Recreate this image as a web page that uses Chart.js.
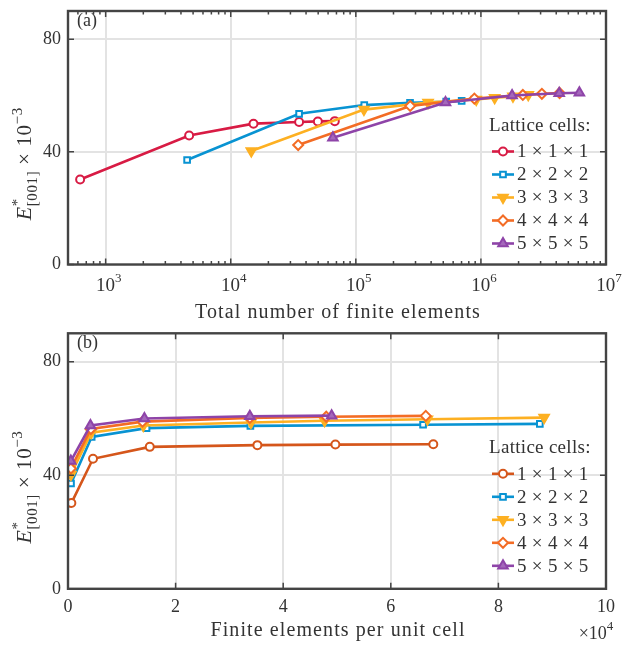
<!DOCTYPE html>
<html lang="en">
<head>
<meta charset="UTF-8">
<title>Lattice convergence</title>
<script src="https://cdn.jsdelivr.net/npm/chart.js"></script>
<style>
    body { margin: 0; background: #fff; }
    .panel { position: relative; width: 634px; }
    #topPanel { height: 320px; }
    #bottomPanel { height: 325px; }
</style>
</head>
<body>
<div class="panel" id="topPanel"><canvas id="chartA"></canvas></div>
<div class="panel" id="bottomPanel"><canvas id="chartB"></canvas></div>
<script>
// legend labels
const cellLabels = ['1 × 1 × 1', '2 × 2 × 2', '3 × 3 × 3', '4 × 4 × 4', '5 × 5 × 5'];

// finite elements per unit cell (panel b)
const perCell1 = [625, 4650, 15200, 35200, 49700, 67900];
const perCell2 = [560, 4400, 14600, 33900, 66000, 87700];
const perCell3 = [540, 4300, 14000, 34000, 47700, 66800, 88500];
const perCell4 = [540, 4250, 13850, 33800, 48000, 66500];
const perCell5 = [525, 4170, 14200, 33800, 49000];

// total number of finite elements (panel a)
const total1 = [625, 4650, 15200, 35200, 49700, 67900];
const total2 = [4480, 35200, 116800, 271200, 528000, 701600];
const total3 = [14600, 116100, 378000, 918000, 1288000, 1804000, 2390000];
const total4 = [34600, 272000, 886000, 2163000, 3072000, 4256000];
const total5 = [65600, 521000, 1775000, 4225000, 6125000];

// E*[001] x 10^-3
const modulus1 = [30.2, 45.8, 50.0, 50.6, 50.8, 50.9];
const modulus2 = [37.1, 53.5, 56.6, 57.4, 57.8, 58.1];
const modulus3 = [40.3, 55.0, 57.5, 58.6, 59.2, 59.7, 60.3];
const modulus4 = [42.4, 56.3, 58.9, 60.2, 60.6, 60.9];
const modulus5 = [45.0, 57.5, 60.0, 60.8, 61.0];

// ticks
const yTicks = [0, 40, 80];
const logTicks = [1e3, 1e4, 1e5, 1e6, 1e7];
const linTicks = [0, 2e4, 4e4, 6e4, 8e4, 1e5];

const SERIF = '"Liberation Serif", "Times New Roman", serif';
const TEXT = '#333';
const GRID = '#e3e3e3';
const FRAME = '#444';

const styles = [
    { color: '#d81b44', style: 'circle', radius: 4, fill: '#fff', rot: 0 },
    { color: '#0893d2', style: 'rect', radius: 4, fill: '#fff', rot: 0 },
    { color: '#fdb022', style: 'triangle', radius: 5.5, fill: '#fdb022', rot: 180 },
    { color: '#f36c25', style: 'rectRot', radius: 5, fill: '#fff', rot: 0 },
    { color: '#8e44a8', style: 'triangle', radius: 5.5, fill: '#a468bb', rot: 0 }
];

function makeSets(xs, ys, firstColor) {
    return xs.map((xArr, i) => {
        const s = styles[i];
        const c = i === 0 ? firstColor : s.color;
        return {
            label: cellLabels[i],
            data: xArr.map((x, j) => ({ x: x, y: ys[i][j] })),
            showLine: true,
            order: xs.length - 1 - i, // later series on top
            borderColor: c,
            backgroundColor: c,
            borderWidth: 2.6,
            pointStyle: s.style,
            pointRotation: s.rot,
            pointRadius: s.radius,
            pointBorderWidth: 2,
            pointBackgroundColor: s.fill,
            pointBorderColor: c,
            tension: 0
        };
    });
}

// draw text made of parts with sub/superscripts, centred on x
function drawRich(ctx, parts, x, y, spacing) {
    ctx.letterSpacing = (spacing || 0) + 'px';
    let w = 0;
    parts.forEach(p => {
        ctx.font = p.font;
        if (!p.stack) w += ctx.measureText(p.t).width;
    });
    let cx = x - w / 2;
    ctx.textAlign = 'left';
    ctx.textBaseline = 'alphabetic';
    parts.forEach(p => {
        ctx.font = p.font;
        ctx.fillText(p.t, cx, y + (p.dy || 0));
        if (!p.stack) cx += ctx.measureText(p.t).width;
    });
    ctx.letterSpacing = '0px';
}

const big = '19px ' + SERIF;
const small = '13px ' + SERIF;

const decor = {
    id: 'decor',
    afterDraw(chart, args, opts) {
        const ctx = chart.ctx;
        const a = chart.chartArea;
        const xs = chart.scales.x;
        const ys = chart.scales.y;
        ctx.save();

        // frame
        ctx.strokeStyle = FRAME;
        ctx.lineWidth = 2.4;
        ctx.strokeRect(a.left, a.top, a.right - a.left, a.bottom - a.top);

        // tick marks inside, all four sides
        ctx.lineWidth = 1.5;
        ctx.beginPath();
        yTicks.forEach(v => {
            const py = ys.getPixelForValue(v);
            ctx.moveTo(a.left, py); ctx.lineTo(a.left + 6, py);
            ctx.moveTo(a.right, py); ctx.lineTo(a.right - 6, py);
        });
        if (opts.log) {
            for (let k = 2; k <= 6; k++) {
                for (let m = 1; m <= 9; m++) {
                    const v = m * Math.pow(10, k);
                    if (v < xs.min || v > xs.max) continue;
                    const px = xs.getPixelForValue(v);
                    const len = m === 1 ? 6 : 3.5;
                    ctx.moveTo(px, a.bottom); ctx.lineTo(px, a.bottom - len);
                    ctx.moveTo(px, a.top); ctx.lineTo(px, a.top + len);
                }
            }
        } else {
            linTicks.forEach(v => {
                const px = xs.getPixelForValue(v);
                ctx.moveTo(px, a.bottom); ctx.lineTo(px, a.bottom - 6);
                ctx.moveTo(px, a.top); ctx.lineTo(px, a.top + 6);
            });
        }
        ctx.stroke();

        ctx.fillStyle = TEXT;

        // log tick labels with superscripts
        if (opts.log) {
            logTicks.forEach(v => {
                const px = xs.getPixelForValue(v);
                const k = Math.round(Math.log10(v));
                drawRich(ctx, [
                    { t: '10', font: '19px ' + SERIF },
                    { t: String(k), font: small, dy: -9 }
                ], px + 3, a.bottom + 26);
            });
        } else {
            drawRich(ctx, [
                { t: '×10', font: '18px ' + SERIF },
                { t: '4', font: small, dy: -9 }
            ], a.right - 10, a.bottom + 50);
        }

        // x title
        drawRich(ctx, [{ t: opts.xTitle, font: '20px ' + SERIF }],
            (a.left + a.right) / 2 + 1, a.bottom + (opts.log ? 53 : 47), 1.1);

        // panel tag
        ctx.font = '18px ' + SERIF;
        ctx.textAlign = 'left';
        ctx.fillText(opts.tag, a.left + 9, a.top + 15);

        // y title, rotated
        ctx.save();
        ctx.translate(31, (a.top + a.bottom) / 2 + 26);
        ctx.rotate(-Math.PI / 2);
        drawRich(ctx, [
            { t: 'E', font: 'italic 22px ' + SERIF },
            { t: '*', font: '15px ' + SERIF, dy: -9, stack: true },
            { t: '[001]', font: '15px ' + SERIF, dy: 6 },
            { t: ' × 10', font: '21px ' + SERIF },
            { t: '−3', font: '15px ' + SERIF, dy: -9 }
        ], 0, 0, 0.6);
        ctx.restore();

        // legend
        const lx = a.right - 114;
        ctx.font = big;
        ctx.textBaseline = 'middle';
        ctx.textAlign = 'left';
        ctx.letterSpacing = '0.3px';
        ctx.fillText('Lattice cells:', lx - 3, a.top + 115);
        chart.data.datasets.forEach((ds, i) => {
            const ly = a.top + 140.5 + i * 23;
            ctx.strokeStyle = ds.borderColor;
            ctx.lineWidth = ds.borderWidth;
            ctx.beginPath();
            ctx.moveTo(lx, ly); ctx.lineTo(lx + 22, ly);
            ctx.stroke();
            ctx.fillStyle = ds.pointBackgroundColor;
            ctx.strokeStyle = ds.pointBorderColor;
            ctx.lineWidth = ds.pointBorderWidth;
            Chart.helpers.drawPoint(ctx, {
                pointStyle: ds.pointStyle, rotation: ds.pointRotation,
                radius: ds.pointRadius, borderWidth: ds.pointBorderWidth
            }, lx + 11, ly);
            ctx.fillStyle = TEXT;
            ctx.font = big;
            ctx.fillText(ds.label, lx + 25, ly + 1);
        });

        ctx.restore();
    }
};

function makeChart(id, cfg) {
    return new Chart(document.getElementById(id), {
        type: 'scatter',
        data: { datasets: cfg.sets },
        plugins: [decor],
        options: {
            responsive: true,
            maintainAspectRatio: false,
            animation: false,
            events: [],
            layout: { padding: { top: cfg.padTop, right: 28, left: 0, bottom: 0 } },
            plugins: {
                legend: { display: false },
                tooltip: { enabled: false },
                decor: { log: cfg.log, tag: cfg.tag, xTitle: cfg.xTitle }
            },
            scales: {
                x: {
                    type: cfg.log ? 'logarithmic' : 'linear',
                    min: cfg.xMin,
                    max: cfg.xMax,
                    afterBuildTicks: s => { s.ticks = cfg.xTicks.map(v => ({ value: v })); },
                    afterFit: s => { s.height = cfg.xHeight; s.paddingLeft = 0; s.paddingRight = 0; },
                    grid: { color: GRID, lineWidth: 2, drawTicks: false },
                    border: { display: false },
                    ticks: {
                        display: !cfg.log,
                        padding: 8,
                        color: TEXT,
                        font: { family: SERIF, size: 18 },
                        maxRotation: 0,
                        callback: v => String(v / 1e4)
                    }
                },
                y: {
                    min: 0,
                    max: 90,
                    afterBuildTicks: s => { s.ticks = yTicks.map(v => ({ value: v })); },
                    afterFit: s => { s.width = 68; s.paddingTop = 0; s.paddingBottom = 0; },
                    grid: { color: GRID, lineWidth: 2, drawTicks: false },
                    border: { display: false },
                    ticks: {
                        padding: 7,
                        color: TEXT,
                        font: { family: SERIF, size: 18 }
                    }
                }
            }
        }
    });
}

makeChart('chartA', {
    sets: makeSets([total1, total2, total3, total4, total5],
        [modulus1, modulus2, modulus3, modulus4, modulus5], '#d81b44'),
    log: true, tag: '(a)', xTitle: 'Total number of finite elements',
    xMin: 500, xMax: 1e7, xTicks: logTicks, padTop: 11, xHeight: 55.5
});

makeChart('chartB', {
    sets: makeSets([perCell1, perCell2, perCell3, perCell4, perCell5],
        [modulus1, modulus2, modulus3, modulus4, modulus5], '#d5561b'),
    log: false, tag: '(b)', xTitle: 'Finite elements per unit cell',
    xMin: 0, xMax: 1e5, xTicks: linTicks, padTop: 13.3, xHeight: 56.2
});
</script>
</body>
</html>
